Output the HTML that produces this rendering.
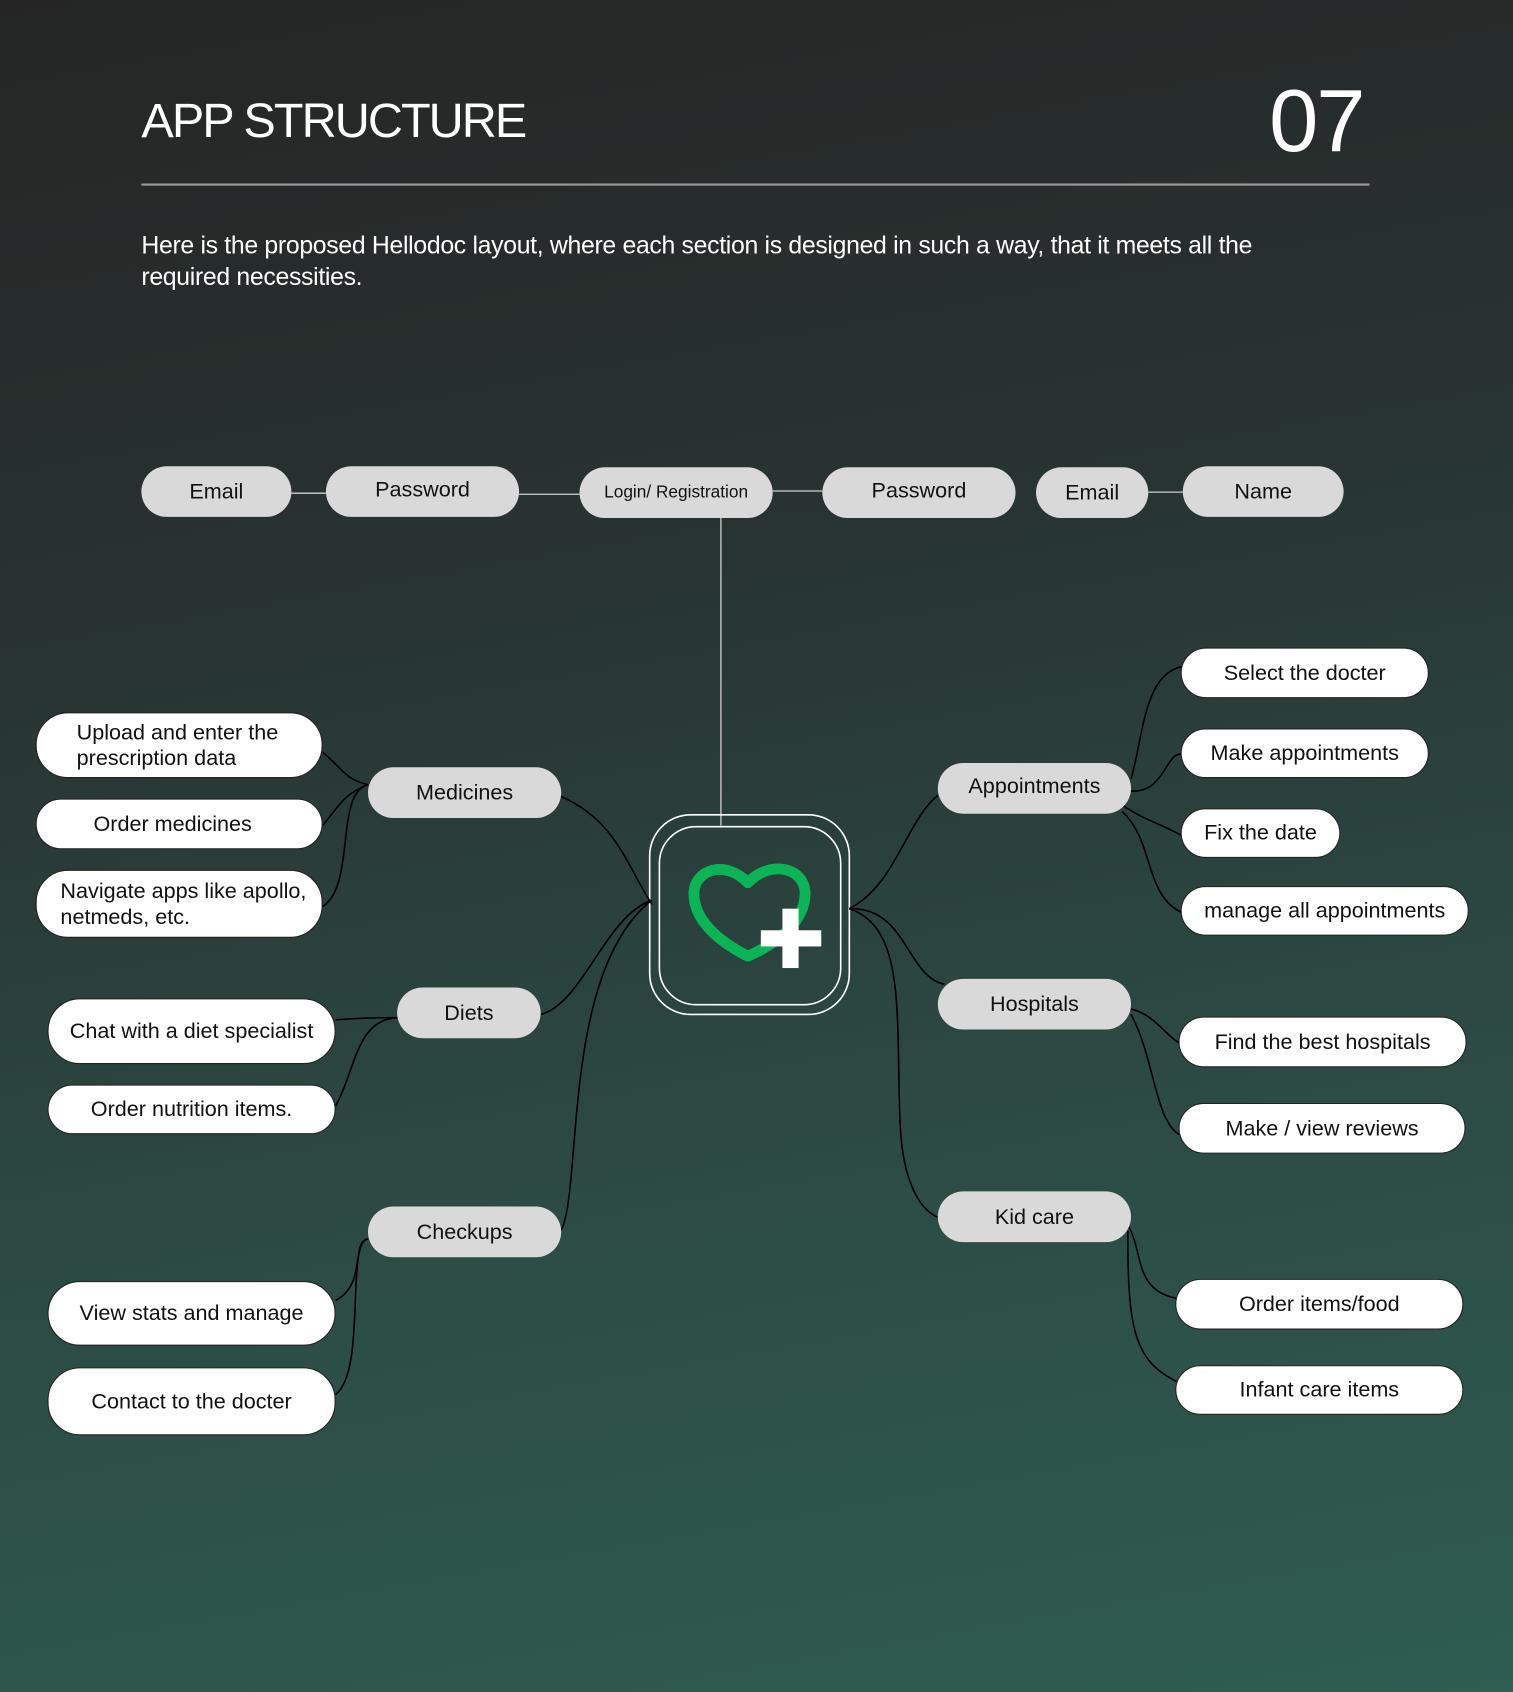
<!DOCTYPE html>
<html><head><meta charset="utf-8"><style>
html,body{margin:0;padding:0;width:1513px;height:1692px;overflow:hidden}
body{background:linear-gradient(170deg,#252525 0%,#283432 35%,#2c4a43 65%,#2e5d52 100%);font-family:"Liberation Sans",Arial,sans-serif}
#w{position:absolute;left:0;top:0;width:1402px;height:1568px;transform:scale(1.0792);transform-origin:0 0}
.p{position:absolute;box-sizing:border-box;border-radius:30px;display:flex;align-items:center;justify-content:center;font-size:20px;color:#111;text-align:center;line-height:24px}
.g{background:#d9d9d9}
.wh{background:#fff;border:1.5px solid #222}
.l{justify-content:flex-start;text-align:left}
</style></head><body><div id="w">
<div style="position:absolute;left:131px;top:86px;font-size:45px;color:#fff;letter-spacing:-1.8px">APP STRUCTURE</div>
<div style="position:absolute;left:1176px;top:66px;font-size:82px;color:#fff;letter-spacing:-2px">07</div>
<div style="position:absolute;left:131px;top:170px;width:1138px;height:1.5px;background:#9a9a9a"></div>
<div style="position:absolute;left:131px;top:213px;width:1100px;font-size:23px;line-height:29px;color:#fff;letter-spacing:-0.3px">Here is the proposed Hellodoc layout, where each section is designed in such a way, that it meets all the required necessities.</div>
<svg style="position:absolute;left:0;top:0" width="1402" height="1568" fill="none">
<g stroke="#cfcfcf" stroke-width="1.2">
<line x1="270" y1="457" x2="302" y2="457"/><line x1="481" y1="458" x2="537" y2="458"/><line x1="716" y1="455" x2="762" y2="455"/><line x1="1064" y1="456" x2="1096" y2="456"/>
<line x1="668" y1="480" x2="668" y2="765"/>
</g>
<g stroke="#fff" stroke-width="1.5">
<rect x="602" y="755" width="185" height="185" rx="38"/>
<rect x="611" y="766" width="168" height="165" rx="34"/>
</g>
<path d="M693 886 C665 872 643 852 643 828 C643 806 672 796 693 818 C714 796 746 804 746 828 C746 855 718 875 693 886 Z" stroke="#0cb458" stroke-width="10" stroke-linejoin="round"/>
<rect x="725" y="842" width="15" height="55" fill="#fff"/><rect x="705" y="862" width="56" height="15" fill="#fff"/>
<g stroke="#000" stroke-width="1.5">
<path d="M520 738 C570 760 580 800 604 838"/>
<path d="M501 940 C540 930 560 850 604 834"/>
<path d="M520 1140 C540 1100 520 900 604 834"/>
<path d="M299 697 C320 715 320 722 341 727"/>
<path d="M299 765 C315 745 320 735 341 727"/>
<path d="M299 840 C330 820 310 735 341 727"/>
<path d="M311 945 C340 943 350 943 368 943"/>
<path d="M311 1025 C330 990 330 945 368 943"/>
<path d="M311 1205 C340 1190 325 1150 341 1148"/>
<path d="M311 1292 C340 1270 320 1150 341 1148"/>
<path d="M787 842 C830 820 840 760 869 737"/>
<path d="M787 842 C840 840 840 905 875 912"/>
<path d="M787 842 C840 860 830 940 834 1040 C836 1090 850 1120 869 1128"/>
<path d="M1048 722 C1060 680 1060 620 1100 617"/>
<path d="M1048 733 C1080 735 1080 695 1096 699"/>
<path d="M1040 746 C1060 760 1080 765 1096 775"/>
<path d="M1040 752 C1070 780 1060 830 1096 846"/>
<path d="M1048 935 C1070 940 1080 960 1094 967"/>
<path d="M1048 940 C1070 980 1070 1040 1094 1052"/>
<path d="M1045 1135 C1060 1160 1050 1195 1090 1203"/>
<path d="M1045 1140 C1045 1230 1050 1260 1090 1280"/>
</g>
</svg>
<div class="p g" style="left:131px;top:432px;width:139px;height:47px">Email</div>
<div class="p g" style="left:302px;top:432px;width:179px;height:47px;padding-bottom:4px">Password</div>
<div class="p g" style="left:537px;top:433px;width:179px;height:47px;font-size:16px">Login/ Registration</div>
<div class="p g" style="left:762px;top:433px;width:179px;height:47px;padding-bottom:4px">Password</div>
<div class="p g" style="left:960px;top:433px;width:104px;height:47px">Email</div>
<div class="p g" style="left:1096px;top:432px;width:149px;height:47px">Name</div>
<div class="p g" style="left:341px;top:711px;width:179px;height:47px">Medicines</div>
<div class="p g" style="left:368px;top:915px;width:133px;height:47px">Diets</div>
<div class="p g" style="left:341px;top:1118px;width:179px;height:47px">Checkups</div>
<div class="p g" style="left:869px;top:707px;width:179px;height:47px;padding-bottom:4px">Appointments</div>
<div class="p g" style="left:869px;top:907px;width:179px;height:47px">Hospitals</div>
<div class="p g" style="left:869px;top:1104px;width:179px;height:47px">Kid care</div>
<div class="p wh l" style="left:33px;top:660px;width:266px;height:61px;padding-left:37px">Upload and enter the<br>prescription data</div>
<div class="p wh" style="left:33px;top:740px;width:266px;height:47px;padding-right:12px">Order medicines</div>
<div class="p wh l" style="left:33px;top:806px;width:266px;height:63px;padding-left:22px">Navigate apps like apollo,<br>netmeds, etc.</div>
<div class="p wh" style="left:44px;top:925px;width:267px;height:61px">Chat with a diet specialist</div>
<div class="p wh" style="left:44px;top:1005px;width:267px;height:46px">Order nutrition items.</div>
<div class="p wh" style="left:44px;top:1187px;width:267px;height:60px">View stats and manage</div>
<div class="p wh" style="left:44px;top:1267px;width:267px;height:63px">Contact to the docter</div>
<div class="p wh" style="left:1094px;top:600px;width:230px;height:47px">Select the docter</div>
<div class="p wh" style="left:1094px;top:675px;width:230px;height:46px">Make appointments</div>
<div class="p wh" style="left:1094px;top:749px;width:148px;height:46px">Fix the date</div>
<div class="p wh" style="left:1094px;top:821px;width:267px;height:46px">manage all appointments</div>
<div class="p wh" style="left:1092px;top:942px;width:267px;height:47px">Find the best hospitals</div>
<div class="p wh" style="left:1092px;top:1022px;width:266px;height:47px">Make / view reviews</div>
<div class="p wh" style="left:1089px;top:1185px;width:267px;height:47px">Order items/food</div>
<div class="p wh" style="left:1089px;top:1265px;width:267px;height:46px">Infant care items</div>
</div></body></html>
